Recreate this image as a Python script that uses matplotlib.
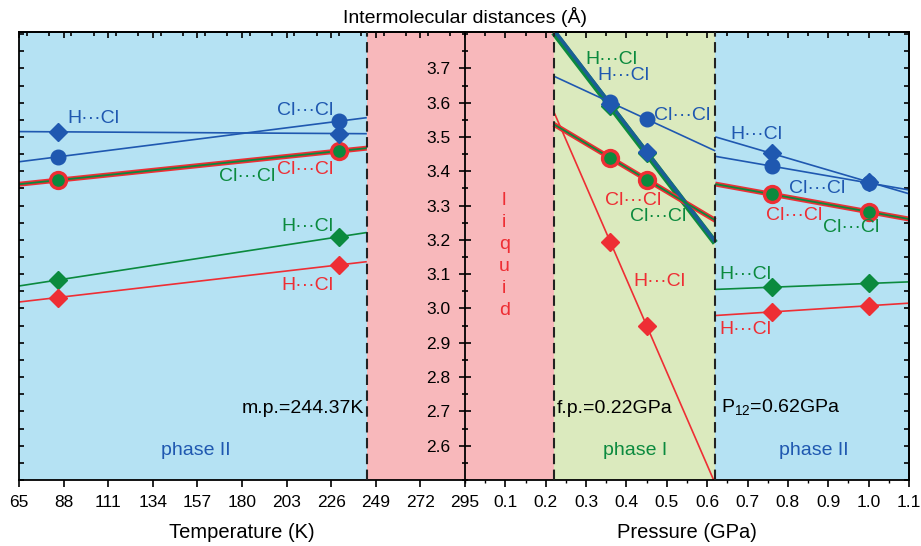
import numpy as np
import matplotlib
matplotlib.use('Agg')
import matplotlib.pyplot as plt
from matplotlib.ticker import MultipleLocator

plt.rcParams['font.family'] = ['Liberation Sans', 'DejaVu Sans']
plt.rcParams['mathtext.fontset'] = 'custom'
plt.rcParams['mathtext.rm'] = 'Liberation Sans'

# ─── Colours ────────────────────────────────────────────────────────────────
BLUE   = '#1f58b0'
RED    = '#ee2e34'
GREEN  = '#0b8a3e'
BG_BLUE  = '#b5e2f3'
BG_PINK  = '#f8b8bb'
BG_GREEN = '#dbeabe'

# ─── Phase boundaries ───────────────────────────────────────────────────────
T_MIN, T_MAX = 65, 295
P_MIN, P_MAX = 0.0, 1.1
M_P   = 244.37      # melting point (K)
F_P   = 0.22        # freezing pressure (GPa)
P_12  = 0.62        # phase I -> II (GPa)

# ─── Data: temperature branch (phase II) ────────────────────────────────────
T_PTS        = [85, 230]
T_HCL_BLUE   = [3.515, 3.510]
T_CLCL_BLUE  = [3.442, 3.546]
T_CLCL_RG    = [3.374, 3.459]
T_HCL_GREEN  = [3.083, 3.209]
T_HCL_RED    = [3.032, 3.127]

# ─── Data: pressure branch, phase I ─────────────────────────────────────────
P1_PTS       = [0.36, 0.45]
P1_HCL_GREEN = [3.590, 3.452]
P1_HCL_BLUE  = [3.596, 3.457]
P1_CLCL_BLUE = [3.601, 3.552]
P1_CLCL_RG   = [3.439, 3.376]
P1_HCL_RED   = [3.194, 2.950]

# ─── Data: pressure branch, phase II ────────────────────────────────────────
P2_PTS       = [0.76, 1.00]
P2_HCL_BLUE  = [3.452, 3.369]
P2_CLCL_BLUE = [3.415, 3.366]
P2_CLCL_RG   = [3.333, 3.282]
P2_HCL_GREEN = [3.062, 3.073]
P2_HCL_RED   = [2.990, 3.008]

T_TICKS = list(range(65, 296, 23))
P_TICKS = [0.1, 0.2, 0.3, 0.4, 0.5, 0.6, 0.7, 0.8, 0.9, 1.0, 1.1]
Y_TICKS = [2.6, 2.7, 2.8, 2.9, 3.0, 3.1, 3.2, 3.3, 3.4, 3.5, 3.6, 3.7]
Y_LIM = (2.5, 3.806)

HCL = 'H\u00b7\u00b7\u00b7Cl'
CLCL = 'Cl\u00b7\u00b7\u00b7Cl'


def fit_line(ax, xs, ys, x0, x1, **kw):
    """Straight line through the points, drawn across the phase range."""
    k, b = np.polyfit(xs, ys, 1)
    xx = np.array([x0, x1])
    ax.plot(xx, k * xx + b, solid_capstyle='butt', **kw)


def draw_set(ax, xs, x0, x1, hcl_b, clcl_b, clcl_rg, hcl_g, hcl_r, thick_h=False):
    thin = 1.2
    if thick_h:
        fit_line(ax, xs, hcl_g, x0, x1, color=GREEN, lw=4.4, zorder=2)
        fit_line(ax, xs, hcl_b, x0, x1, color='#1a5f95', lw=2.6, zorder=2.1)
    else:
        fit_line(ax, xs, hcl_g, x0, x1, color=GREEN, lw=thin, zorder=2)
        fit_line(ax, xs, hcl_b, x0, x1, color=BLUE, lw=thin, zorder=2)
    fit_line(ax, xs, clcl_b, x0, x1, color=BLUE, lw=thin, zorder=2)
    fit_line(ax, xs, clcl_rg, x0, x1, color=RED, lw=3.6, zorder=2)
    fit_line(ax, xs, clcl_rg, x0, x1, color=GREEN, lw=1.3, zorder=2.1)
    fit_line(ax, xs, hcl_r, x0, x1, color=RED, lw=thin, zorder=2)

    ax.plot(xs, hcl_g, 'D', color=GREEN, ms=9, mec=GREEN, zorder=3, ls='none')
    ax.plot(xs, hcl_b, 'D', color=BLUE, ms=9, mec=BLUE, zorder=3.1, ls='none')
    ax.plot(xs, clcl_b, 'o', color=BLUE, ms=10.5, mec=BLUE, zorder=3.05, ls='none')
    ax.plot(xs, clcl_rg, 'o', mfc=GREEN, mec=RED, ms=11.5, mew=2.4, zorder=3, ls='none')
    ax.plot(xs, hcl_r, 'D', color=RED, ms=9, mec=RED, zorder=3, ls='none')


def run():
    fig = plt.figure(figsize=(9.21, 5.46), dpi=100)
    bottom = 1 - 480 / 546
    height = 448 / 546
    ax1 = fig.add_axes([19 / 921, bottom, 446 / 921, height])
    ax2 = fig.add_axes([465 / 921, bottom, 444 / 921, height])

    for ax in (ax1, ax2):
        ax.set_ylim(*Y_LIM)
        for s in ax.spines.values():
            s.set_linewidth(1.3)

    # ── backgrounds ─────────────────────────────────────────────────────
    ax1.set_xlim(T_MIN, T_MAX)
    ax2.set_xlim(P_MIN, P_MAX)
    ax1.axvspan(T_MIN, M_P, color=BG_BLUE, lw=0, zorder=0)
    ax1.axvspan(M_P, T_MAX, color=BG_PINK, lw=0, zorder=0)
    ax2.axvspan(P_MIN, F_P, color=BG_PINK, lw=0, zorder=0)
    ax2.axvspan(F_P, P_12, color=BG_GREEN, lw=0, zorder=0)
    ax2.axvspan(P_12, P_MAX, color=BG_BLUE, lw=0, zorder=0)

    dash = dict(color='#222222', lw=1.5, ls=(0, (5, 2.6)), zorder=4)
    ax1.axvline(M_P, **dash)
    ax2.axvline(F_P, **dash)
    ax2.axvline(P_12, **dash)

    # ── data ────────────────────────────────────────────────────────────
    draw_set(ax1, T_PTS, T_MIN, M_P, T_HCL_BLUE, T_CLCL_BLUE, T_CLCL_RG,
             T_HCL_GREEN, T_HCL_RED)
    draw_set(ax2, P1_PTS, F_P, P_12, P1_HCL_BLUE, P1_CLCL_BLUE, P1_CLCL_RG,
             P1_HCL_GREEN, P1_HCL_RED, thick_h=True)
    draw_set(ax2, P2_PTS, P_12, P_MAX, P2_HCL_BLUE, P2_CLCL_BLUE, P2_CLCL_RG,
             P2_HCL_GREEN, P2_HCL_RED)

    # ── ticks: temperature side ────────────────────────────────────────
    ax1.set_xticks(T_TICKS)
    ax1.tick_params(axis='x', which='major', direction='out', length=5,
                    width=1.2, pad=6, labelsize=12.5, top=False)
    ax1.yaxis.set_major_locator(MultipleLocator(0.05))
    ax1.tick_params(axis='y', which='major', direction='in', length=3.6,
                    width=1.2, left=True, right=False, labelleft=False)
    ax1.spines['right'].set_visible(False)

    # top ticks drawn inward via secondary axes (direction differs from bottom)
    top1 = ax1.secondary_xaxis('top')
    top1.set_xticks(T_TICKS)
    top1.xaxis.set_minor_locator(MultipleLocator(11.5))
    top1.tick_params(which='major', direction='in', length=4.3, width=1.2,
                     labeltop=False)
    top1.tick_params(which='minor', direction='in', length=3.0, width=1.2)
    top1.spines['top'].set_linewidth(1.3)

    # ── ticks: pressure side ───────────────────────────────────────────
    ax2.set_xticks(P_TICKS)
    ax2.set_xticklabels([f'{p:.1f}' for p in P_TICKS])
    ax2.xaxis.set_minor_locator(MultipleLocator(0.05))
    ax2.tick_params(axis='x', which='major', direction='out', length=5,
                    width=1.2, pad=6, labelsize=12.5, top=False)
    ax2.tick_params(axis='x', which='minor', direction='out', length=2.5,
                    width=1.0, top=False)
    top2 = ax2.secondary_xaxis('top')
    top2.set_xticks(P_TICKS)
    top2.xaxis.set_minor_locator(MultipleLocator(0.05))
    top2.tick_params(which='major', direction='in', length=4.3, width=1.2,
                     labeltop=False)
    top2.tick_params(which='minor', direction='in', length=3.0, width=1.2)
    top2.spines['top'].set_linewidth(1.3)

    ax2.set_yticks(Y_TICKS)
    ax2.set_yticklabels([f'{v:.1f}' for v in Y_TICKS])
    ax2.yaxis.set_minor_locator(MultipleLocator(0.05))
    ax2.tick_params(axis='y', which='major', direction='inout', length=8.6,
                    width=1.2, pad=6, labelsize=12.5, right=False)
    ax2.tick_params(axis='y', which='minor', direction='inout', length=4.3,
                    width=1.2, right=False)
    ax2.spines['left'].set_zorder(5)
    right2 = ax2.secondary_yaxis('right')
    right2.yaxis.set_major_locator(MultipleLocator(0.05))
    right2.tick_params(direction='in', length=3.6, width=1.2, labelright=False)
    right2.spines['right'].set_linewidth(1.3)

    ax1.set_xlabel('Temperature (K)', fontsize=14.5, labelpad=9)
    ax2.set_xlabel('Pressure (GPa)', fontsize=14.5, labelpad=9)
    fig.text(465 / 921, 1 - 17 / 546, 'Intermolecular distances (\u00c5)',
             ha='center', va='center', fontsize=14)

    # ── labels: temperature side ───────────────────────────────────────
    lab = dict(fontsize=14, va='center', zorder=6)
    ax1.text(89.8, 3.555, HCL, color=BLUE, ha='left', **lab)
    ax1.text(227, 3.578, CLCL, color=BLUE, ha='right', **lab)
    ax1.text(197, 3.386, CLCL, color=GREEN, ha='right', **lab)
    ax1.text(227, 3.404, CLCL, color=RED, ha='right', **lab)
    ax1.text(227, 3.238, HCL, color=GREEN, ha='right', **lab)
    ax1.text(227, 3.068, HCL, color=RED, ha='right', **lab)
    ax1.text(242.9, 2.709, 'm.p.=244.37K', color='black', ha='right', **lab)
    ax1.text(156, 2.587, 'phase II', color=BLUE, ha='center', **lab)

    # ── labels: pressure side ──────────────────────────────────────────
    ax2.text(0.097, 3.155, 'l\ni\nq\nu\ni\nd', color=RED, ha='center',
             linespacing=1.38, **lab)
    ax2.text(0.297, 3.726, HCL, color=GREEN, ha='left', **lab)
    ax2.text(0.327, 3.680, HCL, color=BLUE, ha='left', **lab)
    ax2.text(0.468, 3.564, CLCL, color=BLUE, ha='left', **lab)
    ax2.text(0.347, 3.316, CLCL, color=RED, ha='left', **lab)
    ax2.text(0.408, 3.267, CLCL, color=GREEN, ha='left', **lab)
    ax2.text(0.418, 3.078, HCL, color=RED, ha='left', **lab)
    ax2.text(0.658, 3.506, HCL, color=BLUE, ha='left', **lab)
    ax2.text(0.802, 3.350, CLCL, color=BLUE, ha='left', **lab)
    ax2.text(0.745, 3.272, CLCL, color=RED, ha='left', **lab)
    ax2.text(0.886, 3.236, CLCL, color=GREEN, ha='left', **lab)
    ax2.text(0.629, 3.100, HCL, color=GREEN, ha='left', **lab)
    ax2.text(0.629, 2.940, HCL, color=RED, ha='left', **lab)
    ax2.text(0.228, 2.709, 'f.p.=0.22GPa', color='black', ha='left', **lab)
    ax2.text(0.634, 2.709, r'P$_\mathregular{12}$=0.62GPa', color='black',
             ha='left', **lab)
    ax2.text(0.422, 2.587, 'phase I', color=GREEN, ha='center', **lab)
    ax2.text(0.864, 2.587, 'phase II', color=BLUE, ha='center', **lab)

    fig.savefig('out.png', dpi=100)


if __name__ == '__main__':
    run()
